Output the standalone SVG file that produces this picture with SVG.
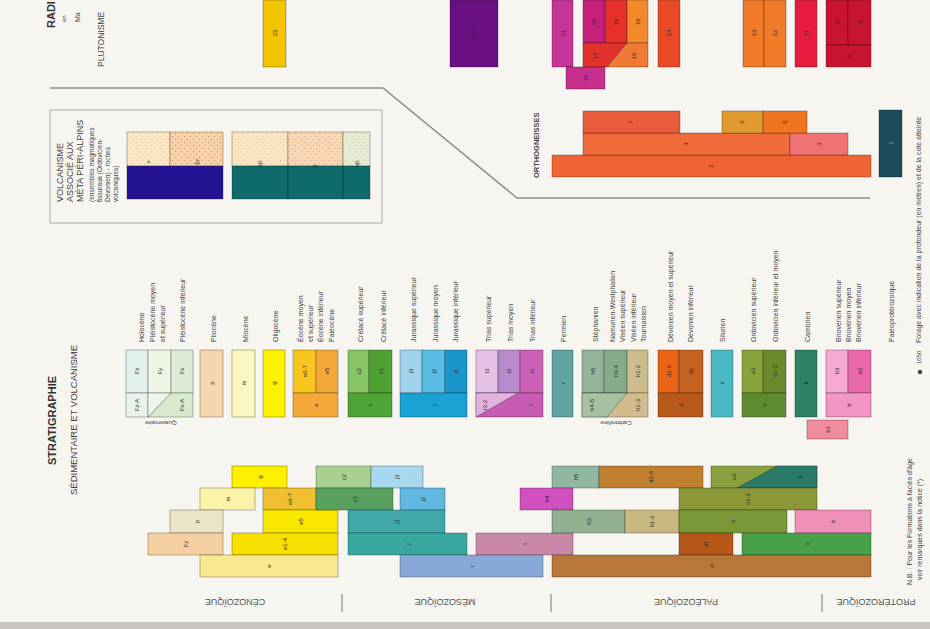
<svg xmlns="http://www.w3.org/2000/svg" width="930" height="629" viewBox="0 0 930 629">
<defs>
<style>
.b{stroke:#000;stroke-opacity:.28;stroke-width:1}
.o{fill:none;stroke:#000;stroke-opacity:.3;stroke-width:1}
.t{font-family:"Liberation Sans",Arial,sans-serif;font-size:7px;fill:#444}
.s{font-family:"Liberation Sans",Arial,sans-serif;font-size:6px;fill:#444}
.c{font-family:"Liberation Sans",Arial,sans-serif;font-size:6px;fill:#2a2a2a;text-anchor:middle;dominant-baseline:central}
.h{font-family:"Liberation Sans",Arial,sans-serif;font-size:11px;font-weight:bold;fill:#333}
.m{font-family:"Liberation Sans",Arial,sans-serif;font-size:9.5px;fill:#444}
.e{font-family:"Liberation Sans",Arial,sans-serif;font-size:9px;fill:#555;text-anchor:middle}
.ln{fill:none;stroke:#8c8c8c;stroke-width:1.5}
.dv{stroke:#a0a0a0;stroke-width:1.5}
</style>
<pattern id="dots" width="6" height="6" patternUnits="userSpaceOnUse">
<circle cx="1.5" cy="1.5" r="0.6" fill="#c08a60"/>
<circle cx="4.5" cy="4.5" r="0.6" fill="#c08a60"/>
</pattern>
</defs>
<rect width="930" height="629" fill="#f7f5f0"/>
<rect x="0" y="622" width="930" height="7" fill="#c9c6c2"/>

<!-- titles -->
<g id="titles">
<text class="h" transform="translate(55,28) rotate(-90)">RADI</text>
<text class="s" transform="translate(66,22) rotate(-90)">en</text>
<text class="t" transform="translate(80,22) rotate(-90)">Ma</text>
<text class="m" transform="translate(104,67) rotate(-90)" style="font-size:8.5px">PLUTONISME</text>
<text class="h" transform="translate(56,465) rotate(-90)">STRATIGRAPHIE</text>
<text class="m" transform="translate(77,495) rotate(-90)">SÉDIMENTAIRE ET VOLCANISME</text>
<text class="t" transform="translate(539,178) rotate(-90)" style="font-weight:bold;font-size:7.5px">ORTHOGNEISSES</text>
</g>

<!-- connectors -->
<g id="connectors">
<path class="ln" d="M50,88 L383,88 L517,198 L870,198"/>
</g>

<!-- plutonisme -->
<g id="pluto-23"><rect class="b" x="263" y="0" width="23" height="67" fill="#f2c400"/><text class="c" transform="translate(274.5,33) rotate(-90)">23</text></g>
<g id="pluto-22"><rect class="b" x="450" y="0" width="48" height="67" fill="#6b1082"/><text class="c" transform="translate(474,33) rotate(-90)">22</text></g>
<g id="pluto-21"><rect class="b" x="552" y="0" width="21" height="67" fill="#c8359a"/><text class="c" transform="translate(562.5,33) rotate(-90)">21</text></g>
<g id="pluto-20">
<rect class="b" x="583" y="0" width="22" height="43" fill="#c8207a"/>
<rect class="b" x="605" y="0" width="22" height="43" fill="#e8302a"/>
<rect class="b" x="627" y="0" width="21" height="43" fill="#f28a2a"/>
<polygon class="b" points="583,43 627,43 607,67 583,67" fill="#e2302c"/>
<polygon class="b" points="627,43 648,43 648,67 607,67" fill="#ee7a34"/>
<text class="c" transform="translate(594,22) rotate(-90)">20</text>
<text class="c" transform="translate(616,22) rotate(-90)">19</text>
<text class="c" transform="translate(637.5,22) rotate(-90)">18</text>
<text class="c" transform="translate(596,56) rotate(-90)">17</text>
<text class="c" transform="translate(634,56) rotate(-90)">16</text>
</g>
<g id="pluto-15"><rect class="b" x="566" y="67" width="39" height="22" fill="#c8308e"/><text class="c" transform="translate(585.5,78) rotate(-90)">15</text></g>
<g id="pluto-14"><rect class="b" x="658" y="0" width="22" height="67" fill="#e84a28"/><text class="c" transform="translate(669,33) rotate(-90)">14</text></g>
<g id="pluto-13"><rect class="b" x="743" y="0" width="21" height="67" fill="#f07a28"/><rect class="b" x="764" y="0" width="22" height="67" fill="#f07a28"/><text class="c" transform="translate(753.5,33) rotate(-90)">13</text><text class="c" transform="translate(775,33) rotate(-90)">12</text></g>
<g id="pluto-11"><rect class="b" x="795" y="0" width="22" height="67" fill="#e81c3c"/><text class="c" transform="translate(806,33) rotate(-90)">11</text></g>
<g id="pluto-10"><rect class="b" x="826" y="0" width="22" height="45" fill="#c81430"/><rect class="b" x="848" y="0" width="23" height="45" fill="#c81430"/><rect class="b" x="826" y="45" width="45" height="22" fill="#c81430"/><text class="c" transform="translate(837,22) rotate(-90)">10</text><text class="c" transform="translate(859.5,22) rotate(-90)">9</text><text class="c" transform="translate(848.5,56) rotate(-90)">8</text></g>

<!-- orthogneiss -->
<g id="ortho">
<rect class="b" x="552" y="155" width="319" height="22" fill="#f06434"/>
<rect class="b" x="583" y="133" width="207" height="22" fill="#f06a3a"/>
<rect class="b" x="790" y="133" width="58" height="22" fill="#f07272"/>
<rect class="b" x="583" y="111" width="97" height="22" fill="#e85c3c"/>
<rect class="b" x="722" y="111" width="41" height="22" fill="#e09a30"/>
<rect class="b" x="763" y="111" width="44" height="22" fill="#f07420"/>
<text class="c" transform="translate(631,122) rotate(-90)">7</text>
<text class="c" transform="translate(742,122) rotate(-90)">6</text>
<text class="c" transform="translate(785,122) rotate(-90)">5</text>
<text class="c" transform="translate(686,144) rotate(-90)">4</text>
<text class="c" transform="translate(819,144) rotate(-90)">3</text>
<text class="c" transform="translate(711,166) rotate(-90)">2</text>
</g>
<g id="ortho-1"><rect class="b" x="879" y="110" width="23" height="67" fill="#1c4b5a"/><text class="c" transform="translate(890.5,143) rotate(-90)" style="fill:#9ab">1</text></g>

<!-- inset volcanisme -->
<g id="inset">
<rect x="50" y="110" width="332" height="113" fill="none" stroke="#b8b8b8" stroke-width="1.2"/>
<text class="t" transform="translate(63,202) rotate(-90)" style="font-size:9px">VOLCANISME</text>
<text class="t" transform="translate(73,202) rotate(-90)" style="font-size:9px">ASSOCIÉ AUX</text>
<text class="t" transform="translate(83,202) rotate(-90)" style="font-size:9px">MÉTA PÉRI-ALPINS</text>
<text class="s" transform="translate(94,202) rotate(-90)" style="font-size:6.5px">(ensembles magmatiques</text>
<text class="s" transform="translate(102,202) rotate(-90)" style="font-size:6.5px">fissuraux (Ordovicien-</text>
<text class="s" transform="translate(110,202) rotate(-90)" style="font-size:6.5px">Dévonien) - roches</text>
<text class="s" transform="translate(118,202) rotate(-90)" style="font-size:6.5px">volcaniques)</text>
</g>
<g id="inset-a">
<rect class="b" x="127" y="132" width="43" height="34" fill="#fbe8c4"/>
<rect x="127" y="132" width="43" height="34" fill="url(#dots)" opacity=".5"/>
<rect class="b" x="170" y="132" width="53" height="34" fill="#f8d2a8"/>
<rect x="170" y="132" width="53" height="34" fill="url(#dots)"/>
<rect class="b" x="127" y="166" width="96" height="33" fill="#241494"/>
<text class="c" transform="translate(148,162) rotate(-90)">ν</text>
<text class="c" transform="translate(197,162) rotate(-90)">ξν</text>
</g>
<g id="inset-b">
<rect class="b" x="232" y="132" width="56" height="34" fill="#fbe6c4"/>
<rect x="232" y="132" width="56" height="34" fill="url(#dots)" opacity=".5"/>
<rect class="b" x="288" y="132" width="55" height="34" fill="#f8d8b4"/>
<rect x="288" y="132" width="55" height="34" fill="url(#dots)" opacity=".7"/>
<rect class="b" x="343" y="132" width="27" height="34" fill="#e4ecd4"/>
<rect x="343" y="132" width="27" height="34" fill="url(#dots)" opacity=".5"/>
<rect class="b" x="232" y="166" width="56" height="33" fill="#0f6b6b"/>
<rect class="b" x="288" y="166" width="55" height="33" fill="#0f6b6b"/>
<rect class="b" x="343" y="166" width="27" height="33" fill="#0f6b6b"/>
<text class="c" transform="translate(260,164) rotate(-90)">δβ</text>
<text class="c" transform="translate(315,166) rotate(-90)">β</text>
<text class="c" transform="translate(357,164) rotate(-90)">ρβ</text>
</g>

<!-- stratigraphic legend -->
<g id="leg-quaternaire">
<rect class="b" x="126" y="350" width="22" height="43" fill="#e2f0ee"/>
<rect class="b" x="148" y="350" width="23" height="43" fill="#eef3e4"/>
<rect class="b" x="171" y="350" width="22" height="43" fill="#deecd6"/>
<rect class="b" x="126" y="393" width="22" height="24" fill="#e8f2e8"/>
<polygon class="b" points="171,393 193,393 193,417 148,417" fill="#d8eacc"/>
<polygon class="b" points="148,393 171,393 148,417" fill="#eef4ea"/>
<text class="c" transform="translate(137,371) rotate(-90)">Fz</text>
<text class="c" transform="translate(159.5,371) rotate(-90)">Fy</text>
<text class="c" transform="translate(182,371) rotate(-90)">Fx</text>
<text class="c" transform="translate(137,405) rotate(-90)">Fz-A</text>
<text class="c" transform="translate(182,405) rotate(-90)">Fx-A</text>
<text class="t" transform="translate(144,342) rotate(-90)">Holocène</text>
<text class="t" transform="translate(155,342) rotate(-90)">Pléistocène moyen</text>
<text class="t" transform="translate(165,342) rotate(-90)">et supérieur</text>
<text class="t" transform="translate(185,342) rotate(-90)">Pléistocène inférieur</text>
<text class="s" transform="translate(161,421) rotate(180)" style="text-anchor:middle">Quaternaire</text>
</g>
<g id="leg-pliocene"><rect class="b" x="200" y="350" width="23" height="67" fill="#f6d6ae"/><text class="c" transform="translate(211.5,383) rotate(-90)">p</text><text class="t" transform="translate(216,342) rotate(-90)">Pliocène</text></g>
<g id="leg-miocene"><rect class="b" x="232" y="350" width="23" height="67" fill="#fbf7c0"/><text class="c" transform="translate(243.5,383) rotate(-90)">m</text><text class="t" transform="translate(248,342) rotate(-90)">Miocène</text></g>
<g id="leg-oligocene"><rect class="b" x="263" y="350" width="22" height="67" fill="#fff200"/><text class="c" transform="translate(274,383) rotate(-90)">g</text><text class="t" transform="translate(278,342) rotate(-90)">Oligocène</text></g>
<g id="leg-eocene">
<rect class="b" x="293" y="350" width="23" height="43" fill="#f8c41e"/>
<rect class="b" x="316" y="350" width="22" height="43" fill="#f4a838"/>
<rect class="b" x="293" y="393" width="45" height="24" fill="#f4a838"/>
<text class="c" transform="translate(304.5,371) rotate(-90)">e6-7</text>
<text class="c" transform="translate(327,371) rotate(-90)">e5</text>
<text class="c" transform="translate(315.5,405) rotate(-90)">e</text>
<text class="t" transform="translate(303,342) rotate(-90)">Éocène moyen</text>
<text class="t" transform="translate(313,342) rotate(-90)">et supérieur</text>
<text class="t" transform="translate(323,342) rotate(-90)">Éocène inférieur</text>
<text class="t" transform="translate(334,342) rotate(-90)">Paléocène</text>
</g>
<g id="leg-cretace">
<rect class="b" x="348" y="350" width="21" height="43" fill="#86c466"/>
<rect class="b" x="369" y="350" width="23" height="43" fill="#4fa232"/>
<rect class="b" x="348" y="393" width="44" height="24" fill="#4ea436"/>
<text class="c" transform="translate(358.5,371) rotate(-90)">c2</text>
<text class="c" transform="translate(380.5,371) rotate(-90)">c1</text>
<text class="c" transform="translate(370,405) rotate(-90)">c</text>
<text class="t" transform="translate(363,342) rotate(-90)">Crétacé supérieur</text>
<text class="t" transform="translate(386,342) rotate(-90)">Crétacé inférieur</text>
</g>
<g id="leg-jurassique">
<rect class="b" x="400" y="350" width="22" height="43" fill="#a0d4ec"/>
<rect class="b" x="422" y="350" width="23" height="43" fill="#58bce4"/>
<rect class="b" x="445" y="350" width="22" height="43" fill="#1896cc"/>
<rect class="b" x="400" y="393" width="67" height="24" fill="#1aa2d4"/>
<text class="c" transform="translate(411,371) rotate(-90)">j3</text>
<text class="c" transform="translate(433.5,371) rotate(-90)">j2</text>
<text class="c" transform="translate(456,371) rotate(-90)">j1</text>
<text class="c" transform="translate(433.5,405) rotate(-90)">j</text>
<text class="t" transform="translate(416,342) rotate(-90)">Jurassique supérieur</text>
<text class="t" transform="translate(438,342) rotate(-90)">Jurassique moyen</text>
<text class="t" transform="translate(458,342) rotate(-90)">Jurassique inférieur</text>
</g>
<g id="leg-trias">
<rect class="b" x="476" y="350" width="22" height="43" fill="#e4c0e4"/>
<rect class="b" x="498" y="350" width="22" height="43" fill="#b88ccc"/>
<rect class="b" x="520" y="350" width="23" height="43" fill="#cc62b8"/>
<rect class="b" x="476" y="393" width="67" height="24" fill="#c85cb4"/>
<polygon class="b" points="476,393 518,393 476,417" fill="#e2b2dc"/>
<text class="c" transform="translate(487,371) rotate(-90)">t3</text>
<text class="c" transform="translate(509,371) rotate(-90)">t2</text>
<text class="c" transform="translate(531.5,371) rotate(-90)">t1</text>
<text class="c" transform="translate(485,405) rotate(-90)">t3-2</text>
<text class="c" transform="translate(531,405) rotate(-90)">t</text>
<text class="t" transform="translate(491,342) rotate(-90)">Trias supérieur</text>
<text class="t" transform="translate(513,342) rotate(-90)">Trias moyen</text>
<text class="t" transform="translate(535,342) rotate(-90)">Trias inférieur</text>
</g>
<g id="leg-permien"><rect class="b" x="552" y="350" width="21" height="67" fill="#5ea2a2"/><text class="c" transform="translate(562.5,383) rotate(-90)">r</text><text class="t" transform="translate(566,342) rotate(-90)">Permien</text></g>
<g id="leg-carbonifere">
<rect class="b" x="582" y="350" width="22" height="43" fill="#94b49c"/>
<rect class="b" x="604" y="350" width="23" height="43" fill="#86aa8a"/>
<rect class="b" x="627" y="350" width="21" height="43" fill="#cfbc8c"/>
<rect class="b" x="582" y="393" width="66" height="24" fill="#d2bc8e"/>
<polygon class="b" points="582,393 627,393 607,417 582,417" fill="#a6c0a2"/>
<text class="c" transform="translate(593,371) rotate(-90)">h5</text>
<text class="c" transform="translate(615.5,371) rotate(-90)">h3-4</text>
<text class="c" transform="translate(637.5,371) rotate(-90)">h1-2</text>
<text class="c" transform="translate(592,405) rotate(-90)">h4-5</text>
<text class="c" transform="translate(638,405) rotate(-90)">h1-3</text>
<text class="t" transform="translate(598,342) rotate(-90)">Stéphanien</text>
<text class="t" transform="translate(615,342) rotate(-90)">Namurien-Westphalien</text>
<text class="t" transform="translate(625,342) rotate(-90)">Viséen supérieur</text>
<text class="t" transform="translate(636,342) rotate(-90)">Viséen inférieur</text>
<text class="t" transform="translate(646,342) rotate(-90)">Tournaisien</text>
<text class="s" transform="translate(616,421) rotate(180)" style="text-anchor:middle">Carbonifère</text>
</g>
<g id="leg-devonien">
<rect class="b" x="658" y="350" width="21" height="43" fill="#ea6418"/>
<rect class="b" x="679" y="350" width="24" height="43" fill="#c46222"/>
<rect class="b" x="658" y="393" width="45" height="24" fill="#b85a1c"/>
<text class="c" transform="translate(668.5,371) rotate(-90)">d2-6</text>
<text class="c" transform="translate(691,371) rotate(-90)">d1</text>
<text class="c" transform="translate(680.5,405) rotate(-90)">d</text>
<text class="t" transform="translate(673,342) rotate(-90)">Dévonien moyen et supérieur</text>
<text class="t" transform="translate(693,342) rotate(-90)">Dévonien inférieur</text>
</g>
<g id="leg-silurien"><rect class="b" x="711" y="350" width="22" height="67" fill="#4ab8c2"/><text class="c" transform="translate(722,383) rotate(-90)">s</text><text class="t" transform="translate(725,342) rotate(-90)">Silurien</text></g>
<g id="leg-ordovicien">
<rect class="b" x="742" y="350" width="21" height="43" fill="#8aa23a"/>
<rect class="b" x="763" y="350" width="23" height="43" fill="#6a8a2c"/>
<rect class="b" x="742" y="393" width="44" height="24" fill="#5e8a30"/>
<text class="c" transform="translate(752.5,371) rotate(-90)">o3</text>
<text class="c" transform="translate(774.5,371) rotate(-90)">o1-2</text>
<text class="c" transform="translate(764,405) rotate(-90)">o</text>
<text class="t" transform="translate(756,342) rotate(-90)">Ordovicien supérieur</text>
<text class="t" transform="translate(778,342) rotate(-90)">Ordovicien inférieur et moyen</text>
</g>
<g id="leg-cambrien"><rect class="b" x="795" y="350" width="22" height="67" fill="#2c8262"/><text class="c" transform="translate(806,383) rotate(-90)">k</text><text class="t" transform="translate(810,342) rotate(-90)">Cambrien</text></g>
<g id="leg-brioverien">
<rect class="b" x="826" y="350" width="22" height="43" fill="#f6aad2"/>
<rect class="b" x="848" y="350" width="23" height="43" fill="#e86aa8"/>
<rect class="b" x="826" y="393" width="45" height="24" fill="#f294c4"/>
<rect class="b" x="807" y="420" width="41" height="19" fill="#f08c9c"/>
<text class="c" transform="translate(837,371) rotate(-90)">b3</text>
<text class="c" transform="translate(859.5,371) rotate(-90)">b2</text>
<text class="c" transform="translate(848.5,405) rotate(-90)">b</text>
<text class="c" transform="translate(827.5,429.5) rotate(-90)">b1</text>
<text class="t" transform="translate(841,342) rotate(-90)">Briovérien supérieur</text>
<text class="t" transform="translate(851,342) rotate(-90)">Briovérien moyen</text>
<text class="t" transform="translate(861,342) rotate(-90)">Briovérien inférieur</text>
</g>
<g id="leg-paleoproterozoique"><text class="t" transform="translate(894,342) rotate(-90)">Paléoprotérozoïque</text></g>

<!-- notes -->
<g id="notes">
<text class="t" transform="translate(921,343) rotate(-90)">Forage avec indication de la profondeur (en mètres) et de la cote atteinte</text>
<text class="s" transform="translate(921,364) rotate(-90)">1050</text>
<circle cx="920" cy="372" r="2.2" fill="#444"/>
<text class="t" transform="translate(912,585) rotate(-90)">N.B. : Pour les Formations à faciès d'âge</text>
<text class="t" transform="translate(922,580) rotate(-90)">voir remarques dans la notice (*)</text>
</g>

<!-- chronostratigraphic chart -->
<g id="chart-cenozoique">
<rect class="b" x="232" y="466" width="55" height="22" fill="#fff000"/>
<rect class="b" x="200" y="488" width="55" height="22" fill="#fbf4a8"/>
<rect class="b" x="263" y="488" width="53" height="22" fill="#f0c030"/>
<rect class="b" x="170" y="510" width="53" height="23" fill="#ece4c8"/>
<rect class="b" x="263" y="510" width="75" height="23" fill="#f8e800"/>
<rect class="b" x="148" y="533" width="75" height="22" fill="#f4d0a0"/>
<rect class="b" x="232" y="533" width="106" height="22" fill="#f8e000"/>
<rect class="b" x="200" y="555" width="138" height="22" fill="#f8e890"/>
<text class="c" transform="translate(259.5,477) rotate(-90)">g</text>
<text class="c" transform="translate(227.5,499) rotate(-90)">m</text>
<text class="c" transform="translate(289.5,499) rotate(-90)">e6-7</text>
<text class="c" transform="translate(196.5,521.5) rotate(-90)">p</text>
<text class="c" transform="translate(300.5,521.5) rotate(-90)">e5</text>
<text class="c" transform="translate(185.5,544) rotate(-90)">Fz</text>
<text class="c" transform="translate(285,544) rotate(-90)">e1-4</text>
<text class="c" transform="translate(269,566) rotate(-90)">e</text>
</g>
<g id="chart-mesozoique">
<rect class="b" x="316" y="466" width="55" height="22" fill="#a8d090"/>
<rect class="b" x="371" y="466" width="52" height="22" fill="#a8d8f0"/>
<rect class="b" x="316" y="488" width="77" height="22" fill="#58a060"/>
<rect class="b" x="400" y="488" width="45" height="22" fill="#60b8e0"/>
<rect class="b" x="348" y="510" width="97" height="23" fill="#40a8a8"/>
<rect class="b" x="348" y="533" width="119" height="22" fill="#38a8a0"/>
<rect class="b" x="476" y="533" width="97" height="22" fill="#c888a8"/>
<rect class="b" x="400" y="555" width="143" height="22" fill="#88a8d8"/>
<text class="c" transform="translate(343.5,477) rotate(-90)">c2</text>
<text class="c" transform="translate(397,477) rotate(-90)">j3</text>
<text class="c" transform="translate(354.5,499) rotate(-90)">c1</text>
<text class="c" transform="translate(422.5,499) rotate(-90)">j2</text>
<text class="c" transform="translate(396.5,521.5) rotate(-90)">j1</text>
<text class="c" transform="translate(407.5,544) rotate(-90)">j</text>
<text class="c" transform="translate(524.5,544) rotate(-90)">t</text>
<text class="c" transform="translate(471.5,566) rotate(-90)">r</text>
</g>
<g id="chart-paleozoique">
<rect class="b" x="552" y="466" width="47" height="22" fill="#90b8a0"/>
<rect class="b" x="599" y="466" width="104" height="22" fill="#c08030"/>
<rect class="b" x="711" y="466" width="106" height="22" fill="#8aa040"/>
<polygon class="b" points="777,466 817,466 817,488 737,488" fill="#2a7a68"/>
<rect class="b" x="520" y="488" width="53" height="22" fill="#d050c0"/>
<rect class="b" x="679" y="488" width="138" height="22" fill="#8a9838"/>
<rect class="b" x="552" y="510" width="73" height="23" fill="#90b090"/>
<rect class="b" x="625" y="510" width="54" height="23" fill="#c8b880"/>
<rect class="b" x="679" y="510" width="108" height="23" fill="#7a9838"/>
<rect class="b" x="795" y="510" width="76" height="23" fill="#f090b8"/>
<rect class="b" x="679" y="533" width="54" height="22" fill="#b85818"/>
<rect class="b" x="742" y="533" width="129" height="22" fill="#48a048"/>
<rect class="b" x="552" y="555" width="319" height="22" fill="#b87838"/>
<text class="c" transform="translate(575.5,477) rotate(-90)">h5</text>
<text class="c" transform="translate(651,477) rotate(-90)">d2-6</text>
<text class="c" transform="translate(734,477) rotate(-90)">o3</text>
<text class="c" transform="translate(800,477) rotate(-90)">k</text>
<text class="c" transform="translate(546.5,499) rotate(-90)">h4</text>
<text class="c" transform="translate(748,499) rotate(-90)">o1-2</text>
<text class="c" transform="translate(588.5,521.5) rotate(-90)">h3</text>
<text class="c" transform="translate(652,521.5) rotate(-90)">h1-2</text>
<text class="c" transform="translate(733,521.5) rotate(-90)">s</text>
<text class="c" transform="translate(833,521.5) rotate(-90)">b</text>
<text class="c" transform="translate(706,544) rotate(-90)">d1</text>
<text class="c" transform="translate(806.5,544) rotate(-90)">o</text>
<text class="c" transform="translate(711.5,566) rotate(-90)">d</text>
</g>
<g id="eras">
<text class="e" transform="translate(235,599) rotate(180)">CÉNOZOÏQUE</text>
<text class="e" transform="translate(445,599) rotate(180)">MÉSOZOÏQUE</text>
<text class="e" transform="translate(686,599) rotate(180)">PALÉOZOÏQUE</text>
<text class="e" transform="translate(876,599) rotate(180)">PROTÉROZOÏQUE</text>
<line class="dv" x1="342" y1="594" x2="342" y2="612"/>
<line class="dv" x1="551" y1="594" x2="551" y2="612"/>
<line class="dv" x1="822" y1="594" x2="822" y2="612"/>
</g>
</svg>
